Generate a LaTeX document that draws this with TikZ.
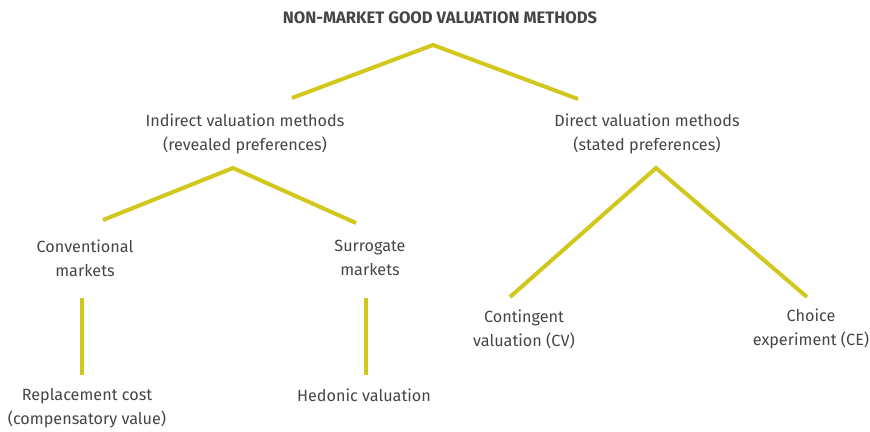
\documentclass[tikz,border=0pt]{standalone}
\usepackage{fontspec}
\setmainfont{Fira Sans}
\begin{document}
\definecolor{inkgray}{HTML}{454545}
\definecolor{branch}{HTML}{D2C71C}
\begin{tikzpicture}[x=1pt,y=-1pt,
  label/.style={text=inkgray,align=center,font=\fontsize{16.2}{23.8}\selectfont,inner sep=0pt},
  heading/.style={text=inkgray,font=\fontsize{16.6}{19}\selectfont\bfseries,inner sep=0pt},
  branchline/.style={draw=branch,line width=4pt,line cap=butt,line join=miter}]
\useasboundingbox (0,0) rectangle (870,431);

% text blocks
\node[heading] (root) at (440,18) {NON-MARKET GOOD VALUATION METHODS};
\node[label] (indirect) at (245,134) {Indirect valuation methods\\(revealed preferences)};
\node[label] (direct) at (647,134) {Direct valuation methods\\(stated preferences)};
\node[label] (conv) at (85,258) {Conventional\\markets};
\node[label] (surr) at (370,258) {Surrogate\\markets};
\node[label] (repl) at (87,408) {Replacement cost\\(compensatory value)};
\node[label] (hedo) at (364,395) {Hedonic valuation};
\node[label] (cv) at (524,329) {Contingent\\valuation (CV)};
\node[label] (ce) at (811,329) {Choice\\experiment (CE)};

% branch points
\coordinate (rootApex) at (433,45);
\coordinate (rootL) at (292,98);
\coordinate (rootR) at (578,99);
\coordinate (indApex) at (233,168);
\coordinate (indL) at (103,220);
\coordinate (indR) at (356,223);
\coordinate (dirApex) at (656,168);
\coordinate (dirL) at (510,297);
\coordinate (dirR) at (807,297);
\coordinate (convTop) at (82,298);
\coordinate (convBot) at (82,375);
\coordinate (surrTop) at (366,298);
\coordinate (surrBot) at (366,375);

% branches
\draw[branchline] (rootL) -- (rootApex) -- (rootR);
\draw[branchline] (indL) -- (indApex) -- (indR);
\draw[branchline] (dirL) -- (dirApex) -- (dirR);
\draw[branchline] (convTop) -- (convBot);
\draw[branchline] (surrTop) -- (surrBot);
\end{tikzpicture}
\end{document}
